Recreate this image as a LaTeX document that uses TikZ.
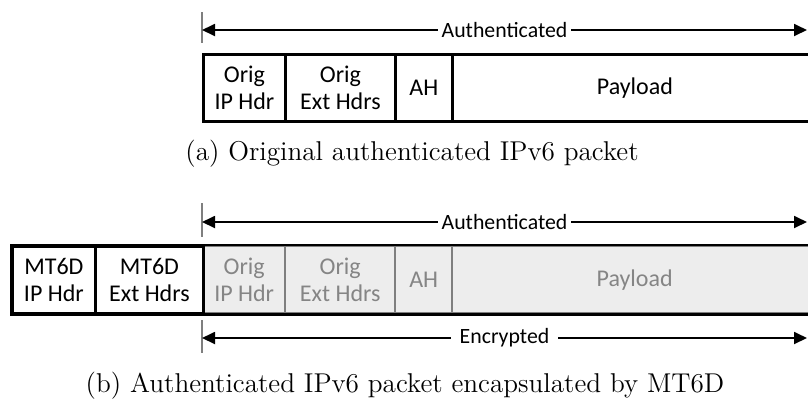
\documentclass[tikz,border=0pt]{standalone}
\usepackage{fontspec}
\newfontfamily\cellfamily{Carlito}
\usetikzlibrary{arrows.meta}
\definecolor{cellgrey}{HTML}{EDEDED}
\definecolor{linegrey}{HTML}{7F7F7F}
\definecolor{textgrey}{HTML}{858585}
\begin{document}
\begin{tikzpicture}[x=0.5pt,y=-0.5pt,
  cell/.style={draw=black, line width=1.4pt, minimum height=33.5pt,
    inner sep=0pt, align=center, anchor=north west,
    font=\cellfamily\fontsize{12}{13.5}\selectfont},
  greycell/.style={cell, draw=linegrey, line width=1.2pt, fill=cellgrey,
    text=textgrey},
  span/.style={line width=0.9pt,
    {Triangle[length=6.5pt,width=6pt]}-{Triangle[length=6.5pt,width=6pt]}},
  spanlabel/.style={fill=white, inner ysep=1pt, inner xsep=1.8pt,
    font=\cellfamily\fontsize{10.9}{12}\selectfont},
  tickline/.style={draw=linegrey, line width=0.6pt},
  caption/.style={anchor=base, font=\fontsize{13.6}{16}\selectfont}]
\useasboundingbox (0,0) rectangle (808,398);
\clip (0,0) rectangle (808,398);

% (a) original packet
\coordinate (aT1) at (202,12); \coordinate (aT2) at (202,43);
\draw[tickline] (aT1) -- (aT2);
\coordinate (aL) at (202,30); \coordinate (aR) at (807,30);
\draw[span] (aL) -- node[spanlabel] {Authenticated} (aR);

\node[cell, minimum width=41pt]    (t1) at (202,53) {Orig\\IP Hdr};
\node[cell, minimum width=55pt]    (t2) at (284,53) {Orig\\Ext Hdrs};
\node[cell, minimum width=28.5pt]  (t3) at (394,53) {AH};
\node[cell, minimum width=182.5pt] (t4) at (451,53) {Payload};

\node[caption] (capa) at (412,160) {(a) Original authenticated IPv6 packet};

% (b) packet encapsulated by MT6D
\coordinate (bT1) at (202,203); \coordinate (bT2) at (202,237);
\draw[tickline] (bT1) -- (bT2);
\coordinate (bL) at (202,222); \coordinate (bR) at (807,222);
\draw[span] (bL) -- node[spanlabel] {Authenticated} (bR);

\node[greycell, minimum width=41pt]    (b1) at (202,245) {Orig\\IP Hdr};
\node[greycell, minimum width=55pt]    (b2) at (284,245) {Orig\\Ext Hdrs};
\node[greycell, minimum width=28.5pt]  (b3) at (394,245) {AH};
\node[greycell, minimum width=182.5pt] (b4) at (451,245) {Payload};
\node[cell, minimum width=41.5pt] (m1) at (11,245) {MT6D\\IP Hdr};
\node[cell, minimum width=54pt]   (m2) at (94,245) {MT6D\\Ext Hdrs};
\draw[line width=1.4pt] (m1.north west) rectangle (b4.south east);

\coordinate (eT1) at (202,320); \coordinate (eT2) at (202,353);
\draw[tickline] (eT1) -- (eT2);
\coordinate (eL) at (202,338); \coordinate (eR) at (807,338);
\draw[span] (eL) -- node[spanlabel, inner xsep=4.5pt] {Encrypted} (eR);

\node[caption] (capb) at (405,392) {(b) Authenticated IPv6 packet encapsulated by MT6D};
\end{tikzpicture}
\end{document}
